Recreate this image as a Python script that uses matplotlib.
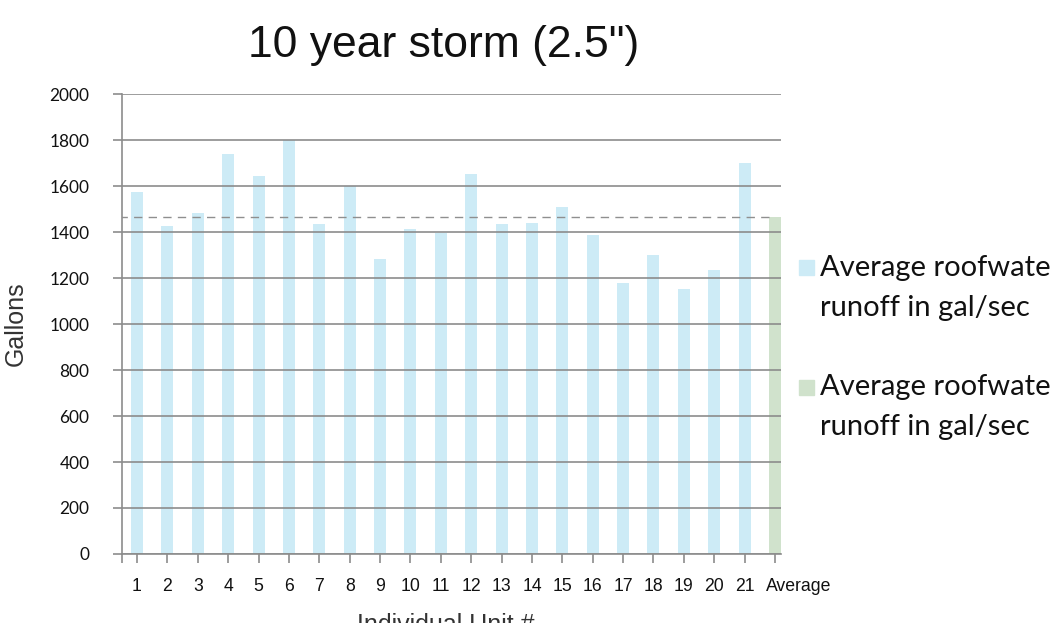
import matplotlib
matplotlib.use("Agg")
import matplotlib.pyplot as plt
from matplotlib.patches import Rectangle
from matplotlib.transforms import ScaledTranslation

# Runoff per unit (gallons) for a 10 year storm
units = [str(i) for i in range(1, 22)]
unit_runoff = [1572, 1426, 1483, 1741, 1643, 1800, 1436, 1600, 1283, 1412, 1397,
               1651, 1436, 1437, 1509, 1386, 1180, 1299, 1152, 1235, 1700]
average_label = "Average"
average_runoff = 1466
y_ticks = [0, 200, 400, 600, 800, 1000, 1200, 1400, 1600, 1800, 2000]
legend_labels = ["Average roofwater\nrunoff in gal/sec",
                 "Average roofwater\nrunoff in gal/sec"]

BLUE = "#cdebf6"
GREEN = "#d0e2cc"
GRID = "#8c8c8c"

W, H = 1052, 623
fig = plt.figure(figsize=(W / 100, H / 100), dpi=100)
ax = fig.add_axes([122 / W, 1 - 554 / H, (781 - 122) / W, (554 - 94) / H])

positions = list(range(1, len(units) + 1))
avg_pos = len(units) + 1
bar_w = 0.395

ax.bar(positions, unit_runoff, width=bar_w, color=BLUE, zorder=1)
ax.bar([avg_pos], [average_runoff], width=bar_w, color=GREEN, zorder=1)
ax.hlines(average_runoff, 0.4, avg_pos - bar_w / 2, colors="#8f8f8f",
          linestyles=(0, (6, 4.5)), lw=1.0, zorder=3)

ax.set_xlim(0.506, avg_pos + 0.197)
ax.set_ylim(0, 2000)
ax.set_yticks(y_ticks)
ax.set_xticks(positions + [avg_pos])
ax.set_xticklabels(units + [average_label])
ax.set_xticks([0.506], minor=True)

ax.set_axisbelow(False)
ax.yaxis.grid(True, color=GRID, lw=1.2, zorder=2)
for s in ("top", "right"):
    ax.spines[s].set_visible(False)
for s in ("left", "bottom"):
    ax.spines[s].set_color(GRID)
    ax.spines[s].set_linewidth(1.2)

ax.tick_params(axis="y", length=6.5, width=1.2, color=GRID, pad=17,
               labelsize=12.4, labelfontfamily="Lato", labelcolor="#111111")
ax.tick_params(axis="x", which="both", length=6.5, width=1.2, color=GRID,
               pad=10.5, labelsize=12.7, labelfontfamily="Liberation Sans",
               labelcolor="#111111")

# shift the "Average" category label a little to the right
last = ax.get_xticklabels()[-1]
last.set_transform(last.get_transform() + ScaledTranslation(0.24, 0, fig.dpi_scale_trans))

fig.text(444 / W, 1 - 57 / H, '10 year storm (2.5")', ha="center", va="baseline",
         fontsize=32, family="Liberation Sans", color="#111111")
fig.text(446 / W, 1 - 613 / H, "Individual Unit #", ha="center", va="top",
         fontsize=18, family="Liberation Sans", color="#333333")
fig.text(16 / W, 1 - 324 / H, "Gallons", ha="center", va="center", rotation=90,
         fontsize=18, family="Liberation Sans", color="#333333")

# legend entries (square beside the first line of each two-line label)
for color, label, sq_top, top in [(BLUE, legend_labels[0], 260, 255),
                                  (GREEN, legend_labels[1], 380, 374)]:
    fig.patches.append(Rectangle((799 / W, 1 - (sq_top + 15) / H), 15 / W, 15 / H,
                                 transform=fig.transFigure, color=color))
    fig.text(820 / W, 1 - top / H, label, ha="left", va="top",
             fontsize=21, family="Lato", color="#111111", linespacing=1.65)

fig.savefig("out.png", dpi=100)
